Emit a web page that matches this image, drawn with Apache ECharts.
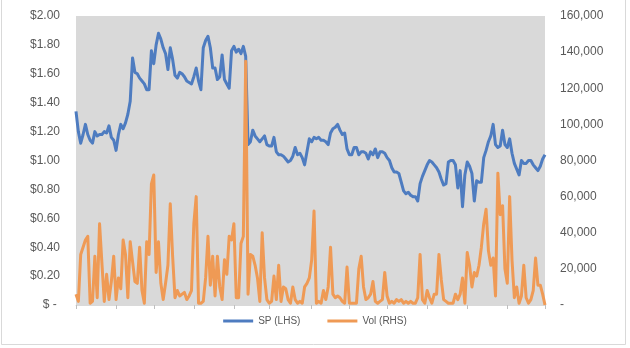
<!DOCTYPE html>
<html>
<head>
<meta charset="utf-8">
<script src="https://cdn.jsdelivr.net/npm/echarts@6/dist/echarts.min.js"></script>
<style>
html,body{margin:0;padding:0;background:#fff;}
#chart{width:630px;height:348px;}
</style>
</head>
<body>
<div id="chart"></div>
<script>
// Share price (LHS, $)
const spValues = [
1.34,1.20,1.12,1.18,1.25,1.18,1.14,1.12,1.20,1.17,
1.18,1.18,1.20,1.19,1.24,1.16,1.14,1.07,1.18,1.25,
1.22,1.26,1.32,1.41,1.71,1.61,1.60,1.57,1.55,1.53,
1.49,1.49,1.76,1.67,1.80,1.88,1.84,1.78,1.74,1.63,
1.78,1.70,1.59,1.57,1.61,1.60,1.58,1.55,1.54,1.53,
1.58,1.64,1.55,1.49,1.78,1.83,1.86,1.78,1.64,1.64,
1.56,1.58,1.73,1.56,1.53,1.50,1.76,1.79,1.75,1.77,
1.74,1.79,1.72,1.11,1.13,1.21,1.17,1.15,1.13,1.15,
1.17,1.11,1.10,1.10,1.16,1.06,1.04,1.04,1.03,1.01,
0.99,1.00,1.03,1.09,1.04,1.05,1.02,0.97,1.06,1.15,
1.13,1.16,1.15,1.16,1.14,1.14,1.13,1.11,1.19,1.22,
1.23,1.25,1.21,1.18,1.19,1.08,1.04,1.04,1.09,1.09,
1.04,1.06,1.06,1.05,1.01,1.06,1.04,1.08,1.02,1.06,
1.06,1.05,1.02,1.00,0.95,0.92,0.92,0.91,0.85,0.79,
0.77,0.78,0.76,0.75,0.75,0.72,0.84,0.89,0.93,0.97,
1.00,0.99,0.97,0.95,0.92,0.87,0.83,0.84,0.99,1.00,
1.00,0.97,0.81,0.93,0.68,0.90,0.99,0.96,0.91,0.72,
0.86,0.85,0.85,1.02,1.07,1.13,1.17,1.25,1.11,1.09,
1.10,1.21,1.11,1.09,1.15,1.05,0.98,0.94,0.90,1.00,
0.98,0.98,1.00,1.00,0.97,0.95,0.93,0.96,1.01,1.04
];
// Volume (RHS)
const volValues = [
6000,2000,28000,32000,36000,38000,1000,2000,27000,4000,
45000,23000,2000,17000,3000,13000,27000,3000,15000,9000,
36000,28000,4000,35000,24000,13000,12000,32000,8000,1000,
35000,28000,67000,72000,18000,35000,12000,3000,12000,22000,
56000,27000,4000,8000,5000,6000,7000,3000,5000,8000,
45000,60000,1000,1000,2000,15000,38000,11000,27000,5000,
27000,10000,3000,25000,17000,38000,36000,45000,4000,4000,
34000,38000,135000,6000,28000,27000,22000,15000,2000,40000,
15000,3000,1000,2000,16000,3000,22000,2000,10000,9000,
3000,1000,10000,3000,1000,2000,1000,10000,12000,15000,
25000,52000,1000,2000,1000,8000,3000,10000,32000,6000,
4000,5000,4000,2000,1000,21000,1000,1000,1000,1000,
20000,27000,10000,3000,4000,6000,13000,2000,1000,2000,
3000,18000,5000,1000,2000,1000,3000,2000,3000,1000,
2000,1000,2000,1000,1000,4000,28000,3000,1000,8000,
4000,1000,6000,6000,28000,14000,3000,2000,1000,1000,
1000,6000,3000,6000,15000,1000,29000,22000,10000,18000,
16000,22000,32000,45000,53000,30000,22000,26000,5000,73000,
50000,55000,20000,12000,60000,25000,4000,10000,1000,5000,
22000,4000,1000,3000,8000,26000,11000,11000,6000,0
];
// Trading-day categories (no labels shown on the axis)
const categories = spValues.map((_, i) => 'D' + (i + 1));
// Month-boundary tick positions (category indices)
const tickIndices = [0, 17, 33, 50, 67, 82, 100, 116, 132, 149, 166, 183, 199];
const seriesNames = ['SP (LHS)', 'Vol (RHS)'];

const tickSet = new Set(tickIndices);
const chart = echarts.init(document.getElementById('chart'), null, {renderer: 'canvas'});
const labelFont = {color: '#595959', fontFamily: 'Liberation Sans', fontSize: 12};
chart.setOption({
  animation: false,
  backgroundColor: '#ffffff',
  graphic: [{
    type: 'rect', silent: true, z: -10,
    shape: {x: 1.5, y: -2, width: 624, height: 346.5},
    style: {fill: 'none', stroke: '#d9d9d9', lineWidth: 1}
  }],
  grid: {
    left: 76, right: 85, top: 16, bottom: 43,
    show: true, backgroundColor: '#d9d9d9', borderWidth: 0
  },
  legend: {
    data: seriesNames,
    left: 'center', top: 311,
    icon: 'rect', itemWidth: 30, itemHeight: 3, itemGap: 27,
    textStyle: {color: '#595959', fontFamily: 'Liberation Sans', fontSize: 10}
  },
  xAxis: {
    type: 'category', data: categories, boundaryGap: false,
    axisLine: {show: true, lineStyle: {color: '#d9d9d9'}},
    axisTick: {show: true, length: 4, interval: (idx) => tickSet.has(idx), lineStyle: {color: '#bfbfbf'}},
    axisLabel: {show: false},
    splitLine: {show: false}
  },
  yAxis: [{
    type: 'value', min: 0, max: 2, interval: 0.2, position: 'left',
    axisLine: {show: false}, axisTick: {show: false}, splitLine: {show: false},
    axisLabel: Object.assign({margin: 16, formatter: v => Math.abs(v) < 1e-9 ? '$ - ' : '$' + v.toFixed(2)}, labelFont)
  }, {
    type: 'value', min: 0, max: 160000, interval: 20000, position: 'right',
    axisLine: {show: false}, axisTick: {show: false}, splitLine: {show: false},
    axisLabel: Object.assign({margin: 15, formatter: v => v === 0 ? '-' : v.toLocaleString('en-US')}, labelFont)
  }],
  series: [{
    name: seriesNames[0], type: 'line', yAxisIndex: 0, data: spValues,
    symbol: 'none', lineStyle: {color: '#4e7cc0', width: 3, join: 'round'},
    itemStyle: {color: '#4e7cc0'}
  }, {
    name: seriesNames[1], type: 'line', yAxisIndex: 1, data: volValues,
    symbol: 'none', lineStyle: {color: '#ef9a55', width: 3, join: 'round'},
    itemStyle: {color: '#ef9a55'}
  }]
});
</script>
</body>
</html>
